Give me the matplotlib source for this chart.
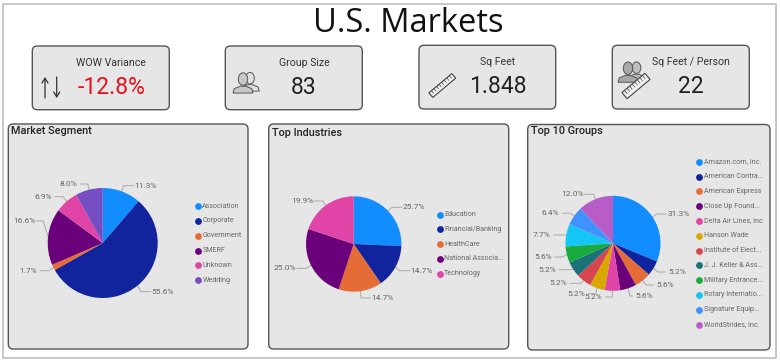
import math
import matplotlib
matplotlib.use("Agg")
import matplotlib.pyplot as plt
from matplotlib.patches import FancyBboxPatch, Rectangle, Ellipse, Polygon
from matplotlib.transforms import Affine2D

W, H = 780, 360
FONT = "Roboto"
plt.rcParams["font.family"] = [FONT, "DejaVu Sans"]

# ---- data ----
kpi_titles = ["WOW Variance", "Group Size", "Sq Feet", "Sq Feet / Person"]
kpi_values = ["-12.8%", "83", "1.848", "22"]

segment_names = ["Association", "Corporate", "Government", "SMERF", "Unknown", "Wedding"]
segment_values = [11.3, 55.6, 1.7, 16.6, 6.9, 8.0]

industry_names = ["Education", "Financial/Banking", "HealthCare", "National Associa...", "Technology"]
industry_values = [25.7, 14.7, 14.7, 25.0, 19.9]

group_names = ["Amazon.com, Inc.", "American Contra...", "American Express", "Close Up Found...",
               "Delta Air Lines, Inc", "Hanson Wade", "Institute of Elect...", "J. J. Keller & Ass...",
               "Military Entrance...", "Rotary Internatio...", "Signature Equip...", "WorldStrides, Inc."]
group_values = [31.3, 5.2, 5.6, 5.6, 5.2, 5.2, 5.2, 5.2, 5.6, 7.7, 6.4, 12.0]

# ---- style ----
palette = ["#118DFF", "#12239E", "#E66C37", "#6B007B", "#E044A7", "#D9A800",
           "#D64550", "#197278", "#1AAB40", "#15C6F4", "#4092FF", "#B85CC8"]
segment_colors = ["#118DFF", "#12239E", "#E66C37", "#6B007B", "#E044A7", "#744EC2"]
PANEL = "#E6E6E6"
EDGE = "#555555"
LABEL = "#666666"

segment_label_xy = [(145.3, 185.7), (162.7, 291.7), (28.3, 270.7), (24.3, 221), (43.3, 196.7), (68.3, 184)]
industry_label_xy = [(413.7, 207.3), (421.7, 270.7), (382, 298), (285, 268.3), (302, 201)]
group_label_xy = [(678.3, 214), (677, 272), (665.3, 285), (644.3, 296), (593.3, 297), (576.7, 293.7),
                  (558.3, 283.3), (547.3, 269.7), (542.7, 257), (541.7, 235), (550.7, 213.3), (572.7, 194.3)]

fig = plt.figure(figsize=(W / 100, H / 100), dpi=100, facecolor="white")
ax = fig.add_axes([0, 0, 1, 1])
ax.axis("off")


def Y(y):
    return H - y


def card(x0, y0, x1, y1, pad=5):
    ax.add_patch(FancyBboxPatch((x0 + pad, Y(y1) + pad), x1 - x0 - 2 * pad, y1 - y0 - 2 * pad,
                                boxstyle=f"round,pad={pad},rounding_size={pad}",
                                fc=PANEL, ec=EDGE, lw=1.0, zorder=1))


def person(cx, cy, s, fc, ec="#555555"):
    ax.add_patch(Ellipse((cx, Y(cy - 4.2 * s)), 7.5 * s, 10 * s, fc=fc, ec=ec, lw=0.7, zorder=3))
    pts = [(cx - 8 * s, cy + 7 * s), (cx - 7 * s, cy + 3.5 * s), (cx - 2 * s, cy + 1.5 * s),
           (cx + 2 * s, cy + 1.5 * s), (cx + 7 * s, cy + 3.5 * s), (cx + 8 * s, cy + 7 * s)]
    ax.add_patch(Polygon([(a, Y(b)) for a, b in pts], closed=True, fc=fc, ec=ec, lw=0.7, zorder=3))


def ruler(cx, cy, length, width, angle=40):
    tr = Affine2D().rotate_deg_around(cx, Y(cy), angle) + ax.transData
    ax.add_patch(Rectangle((cx - length / 2, Y(cy) - width / 2), length, width, fc="#F0F0F0",
                           ec="#444444", lw=0.8, transform=tr, zorder=4))
    n = 9
    for i in range(1, n):
        xx = cx - length / 2 + length * i / n
        ax.plot([xx, xx], [Y(cy) + width / 2, Y(cy) + width / 2 - (width * 0.5)], color="#444444",
                lw=0.5, transform=tr, zorder=5)


def arrow(x, y0, y1):
    ax.annotate("", xy=(x, Y(y1)), xytext=(x, Y(y0)), zorder=6,
                arrowprops=dict(arrowstyle="->,head_length=0.35,head_width=0.22", color="#333333",
                                lw=0.9, shrinkA=0, shrinkB=0))


def pie_panel(names, values, colors, center, radius, label_xy, legend_x, text_x, legend_y, step, title, title_xy):
    cx, cy = center
    ax.pie(values, colors=colors, center=(cx, Y(cy)), radius=radius, startangle=90,
           counterclock=False, frame=True, normalize=True, wedgeprops=dict(lw=0, zorder=3))
    ax.text(title_xy[0], Y(title_xy[1]), title, fontsize=7.8, color="#222222", weight="medium",
            ha="left", va="center", zorder=6)
    total = sum(values)
    cum = 0
    for v, (lx, ly) in zip(values, label_xy):
        mid = math.radians(90 - (cum + v / 2) / total * 360)
        cum += v
        sx, sy = cx + radius * math.cos(mid), cy - radius * math.sin(mid)
        ex = cx + (radius + 5) * math.cos(mid)
        tx = lx - 12 if lx > cx else lx + 12
        ax.plot([sx, ex, tx], [Y(sy), Y(ly), Y(ly)], color="#A8A8A8", lw=0.7, zorder=2,
                solid_joinstyle="round")
        ax.text(lx, Y(ly), f"{v:.1f}%", fontsize=6.0, color=LABEL, ha="center", va="center", zorder=6)
    for i, (n, c) in enumerate(zip(names, colors)):
        yy = legend_y + i * step
        ax.scatter([legend_x], [Y(yy)], s=24, color=c, linewidths=0, zorder=6)
        ax.text(text_x, Y(yy), n, fontsize=5.1, color=LABEL, ha="left", va="center", zorder=6)


# outer frame
ax.plot([3, 3, 776, 776, 3], [Y(357.5), Y(3.5), Y(3.5), Y(357.5), Y(357.5)], color="#C4C4C4", lw=1.3, zorder=0)

# title
ax.text(408, Y(24), "U.S. Markets", fontsize=23.5, family="Open Sans", color="#111111",
        ha="center", va="center")

# KPI cards
kpi_boxes = [(32.3, 46, 169.3, 109.7), (225.3, 46, 362.3, 109.7), (419, 45.3, 555.7, 109), (612.3, 45.3, 749.3, 109)]
kpi_title_x = [111, 304, 498, 691]
kpi_value_x = [112, 304, 498, 691]
for box, t, v, tx, vx in zip(kpi_boxes, kpi_titles, kpi_values, kpi_title_x, kpi_value_x):
    card(*box)
    ax.text(tx, Y(box[1] + 17), t, fontsize=7.6, color="#333333", ha="center", va="center", zorder=6)
    ax.text(vx, Y(box[1] + 41), v, fontsize=16.5, color="#E8111B" if v.startswith("-") else "#222222",
            ha="center", va="center", zorder=6)

# KPI icons
arrow(45, 98, 77)
arrow(56.7, 77, 98)
person(250, 83, 1.15, "#E2E2E2")
person(243, 84.3, 1.25, "#C8C8C8")
ruler(442.3, 85.5, 30, 6)
person(636.5, 72.5, 1.15, "#BEBEBE")
person(628, 73.5, 1.25, "#A8A8A8")
ruler(636, 86, 30, 8)

# panels
card(8.3, 124, 248, 349)
card(268.7, 124, 508.7, 349)
card(527.7, 124.5, 770, 350)

pie_panel(segment_names, segment_values, segment_colors, (102.7, 243), 55, segment_label_xy,
          197.7, 202.3, 206, 14.85, "Market Segment", (11, 130.5))
pie_panel(industry_names, industry_values, palette[:5], (353.7, 244), 47.7, industry_label_xy,
          440.3, 444.3, 214.7, 14.75, "Top Industries", (272, 133.5))
pie_panel(group_names, group_values, palette, (613, 243.3), 47.5, group_label_xy,
          699, 703.7, 161.7, 14.8, "Top 10 Groups", (531, 130.5))

ax.set_aspect("equal")
ax.set_xlim(0, W)
ax.set_ylim(0, H)
fig.savefig("out.png", dpi=100, facecolor="white")
